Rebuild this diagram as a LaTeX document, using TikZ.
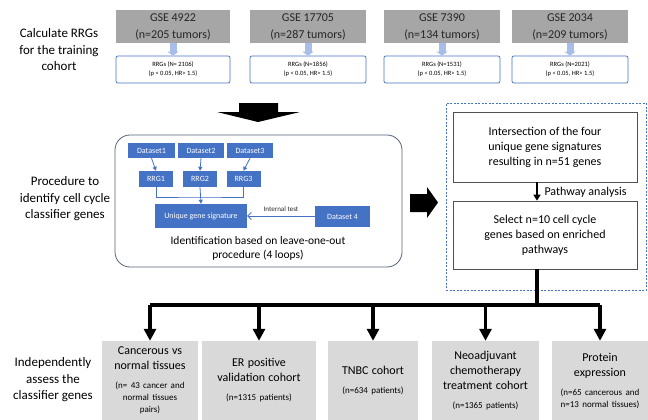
\documentclass[tikz,border=0pt]{standalone}
\usepackage{fontspec}
\setmainfont{Carlito}
\usetikzlibrary{
    arrows.meta,
    positioning,
    calc
}

\definecolor{dsblue}{RGB}{68,114,196}
\definecolor{paleblue}{RGB}{166,190,232}
\definecolor{gsegray}{RGB}{166,166,166}
\definecolor{outgray}{RGB}{217,217,217}
\definecolor{frameslate}{RGB}{84,98,122}
\definecolor{boxline}{RGB}{80,80,80}

\newcommand{\outhead}{\fontsize{12}{15}\selectfont}
\newcommand{\outsub}{\fontsize{9}{12}\selectfont}

\begin{document}
\begin{tikzpicture}[
  x=1pt, y=-1pt,
  sidelabel/.style={align=center, font={\fontsize{13}{16.5}\selectfont}},
  gsebox/.style={fill=gsegray, text=black!85, align=center, inner sep=0,
    minimum height=33, font={\fontsize{12}{17}\selectfont}},
  rrgbox/.style={draw=dsblue, line width=0.7pt, rounded corners=2pt, fill=white,
    align=center, inner sep=0, minimum height=27, font={\fontsize{6.5}{9}\selectfont}},
  dsbox/.style={fill=dsblue, text=white, inner sep=0, font={\fontsize{8}{10}\selectfont}},
  plainbox/.style={draw=boxline, line width=0.7pt, align=center, inner sep=0,
    minimum width=184, font={\fontsize{12}{15}\selectfont}},
  outbox/.style={fill=outgray, align=center, inner sep=0, minimum height=79},
  palearrow/.style={paleblue, line width=7pt, -{Triangle[width=11pt,length=4pt]}},
  blueline/.style={dsblue, line width=0.8pt},
  bluearrow/.style={blueline, -{Triangle[width=4pt,length=4pt]}},
  bigline/.style={black, line width=3.5pt},
  bigarrow/.style={bigline, -{Triangle[width=12pt,length=12pt]}}
]

  \useasboundingbox (0,0) rectangle (648,420);

  % row labels {{{
  \node[sidelabel] (lab1) at (59,50) {Calculate RRGs\\for the training\\cohort};
  \node[sidelabel] (lab2) at (65,199) {Procedure to\\identify cell cycle\\classifier genes};
  \node[sidelabel] (lab3) at (53,380) {Independently\\assess the\\classifier genes};
  % }}}

  % training data sets {{{
  \node[gsebox, minimum width=114] (gse1) at (173,26.5) {GSE 4922\\(n=205 tumors)};
  \node[gsebox, minimum width=116] (gse2) at (308,26.5) {GSE 17705\\(n=287 tumors)};
  \node[gsebox, minimum width=116] (gse3) at (442,26.5) {GSE 7390\\(n=134 tumors)};
  \node[gsebox, minimum width=116] (gse4) at (570,26.5) {GSE 2034\\(n=209 tumors)};

  \node[rrgbox, minimum width=114] (rrgs1) at (173,69.5) {RRGs (N= 2106)\\(p < 0.05, HR> 1.5)};
  \node[rrgbox, minimum width=116] (rrgs2) at (308,69.5) {RRGs (N=1856)\\(p < 0.05, HR> 1.5)};
  \node[rrgbox, minimum width=116] (rrgs3) at (442,69.5) {RRGs (N=1531)\\(p < 0.05, HR> 1.5)};
  \node[rrgbox, minimum width=116] (rrgs4) at (570,69.5) {RRGs (N=2021)\\(p < 0.05, HR> 1.5)};

  \foreach \i in {1,...,4}
    \draw[palearrow] (gse\i.south) -- (rrgs\i.north);
  % }}}

  % big arrows {{{
  \fill (239,103) -- (278,103) -- (278,112) -- (300,112) -- (258,122)
    -- (217,112) -- (239,112) -- cycle;
  \fill (410,194) -- (427,194) -- (427,187) -- (438,202.5) -- (427,218)
    -- (427,212) -- (410,212) -- cycle;
  % }}}

  % leave-one-out procedure {{{
  \node[
    draw=frameslate,
    line width=0.8pt,
    rounded corners=15pt,
    minimum width=287,
    minimum height=132
  ] (loo) at (258.5,201) {};

  \node[dsbox, minimum width=47, minimum height=15] (ds1) at (151.5,150.5) {Dataset1};
  \node[dsbox, minimum width=46, minimum height=15] (ds2) at (201,150.5) {Dataset2};
  \node[dsbox, minimum width=46, minimum height=15] (ds3) at (250,150.5) {Dataset3};
  \node[dsbox, minimum width=34, minimum height=16] (rrg1) at (156,179) {RRG1};
  \node[dsbox, minimum width=34, minimum height=16] (rrg2) at (200,179) {RRG2};
  \node[dsbox, minimum width=34, minimum height=16] (rrg3) at (243.5,179) {RRG3};
  \node[dsbox, minimum width=92, minimum height=24] (unique) at (201,216) {Unique gene signature};
  \node[dsbox, minimum width=55, minimum height=21] (ds4) at (342.5,216.5) {Dataset 4};

  \draw[bluearrow] (ds1.south) -- (rrg1.north);
  \draw[bluearrow] (ds2.south) -- (rrg2.north);
  \draw[bluearrow] (ds3.south) -- (rrg3.north);
  \coordinate (join) at (200,197);
  \draw[blueline] (rrg1.south) |- (join) -| (rrg3.south);
  \draw[bluearrow] (rrg2.south) -- (unique.north);
  \draw[blueline, -{Straight Barb[width=7pt,length=3.5pt]}] (ds4.west) -- (unique.east -| ds4.west) -- (unique.east)
    node[pos=0.5, above=1pt, black!85, font={\fontsize{7}{9}\selectfont}] (inttest) {Internal test};

  \node[
    align=center,
    font={\fontsize{11.5}{13.5}\selectfont}
  ] (loocap) at (258,248.5)
  {Identification based on leave-one-out\\procedure (4 loops)};
  % }}}

  % gene selection {{{
  \node[
    draw=dsblue,
    line width=0.7pt,
    dash pattern=on 2pt off 1.5pt,
    minimum width=200,
    minimum height=187
  ] (selframe) at (546,196.5) {};

  \node[plainbox, minimum height=70] (inter) at (545,147)
  {Intersection of the four\\unique gene signatures\\resulting in n=51 genes};
  \node[plainbox, minimum height=68] (select) at (545,235)
  {Select n=10 cell cycle\\genes based on enriched\\pathways};

  \coordinate (split) at (537,305);
  \draw[line width=1.6pt, -{Triangle[width=7pt,length=6pt]}]
    (inter.south -| split) -- (select.north -| split);
  \node[
    anchor=west,
    font={\fontsize{12}{15}\selectfont}
  ] (pathway) at (541,192) {Pathway analysis};
  % }}}

  % validation sets {{{
  \node[outbox, minimum width=96, text width=94] (tissue) at (150,380.5)
  {\outhead Cancerous vs\\normal tissues\par\vspace{7pt}
   \outsub (n= 43 cancer and\\normal tissues\\pairs)};
  \node[outbox, minimum width=114, text width=110] (erpos) at (259,380.5)
  {\outhead ER positive\\validation cohort\par\vspace{7pt}
   \outsub (n=1315 patients)};
  \node[outbox, minimum width=90, text width=88] (tnbc) at (373,380.5)
  {\outhead TNBC cohort\par\vspace{7pt}
   \outsub (n=634 patients)};
  \node[outbox, minimum width=107, text width=105] (neoadj) at (485.5,380.5)
  {\outhead Neoadjuvant\\chemotherapy\\treatment cohort\par\vspace{7pt}
   \outsub (n=1365 patients)};
  \node[outbox, minimum width=96, text width=95] (protein) at (600,380.5)
  {\outhead Protein\\expression\par\vspace{7pt}
   \outsub (n=65 cancerous and\\n=13 normal tissues)};

  \draw[bigline] (select.south -| split) -- (split);
  \draw[bigline] (tissue.north |- split) -- (protein.north |- split);
  \foreach \o in {tissue,erpos,tnbc,neoadj,protein}
    \draw[bigarrow] (\o.north |- split) -- (\o.north);
  % }}}

\end{tikzpicture}
\end{document}
